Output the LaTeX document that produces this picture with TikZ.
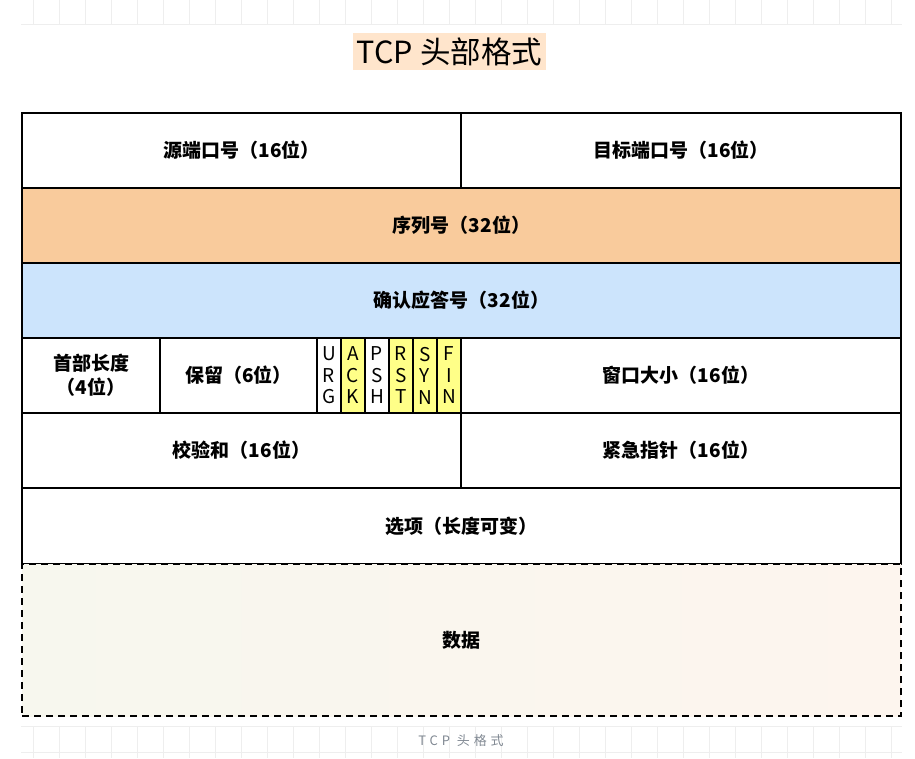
\documentclass[tikz,border=0pt]{standalone}
\usepackage{fontspec}
\setmainfont{Noto Sans CJK SC}
\usetikzlibrary{positioning}

\definecolor{seqorange}{RGB}{249,203,156}
\definecolor{ackblue}{RGB}{204,228,252}
\definecolor{flagyellow}{RGB}{255,255,136}
\definecolor{titlepeach}{RGB}{255,229,204}
\definecolor{gridgray}{RGB}{238,238,238}
\definecolor{capgray}{RGB}{128,136,146}
\definecolor{dataleft}{RGB}{247,247,238}
\definecolor{dataright}{RGB}{253,245,238}

\tikzset{
  field/.style={draw=black, line width=1.7pt, anchor=north west, inner sep=0pt, outer sep=0pt,
    minimum height=75pt, align=center, font=\bfseries\fontsize{19}{24}\selectfont},
  flagbit/.style={field, minimum width=24pt, font=\fontsize{19}{21.5}\selectfont},
  gridline/.style={draw=gridgray, line width=0.6pt},
}

\begin{document}
\begin{tikzpicture}[x=1pt, y=-1pt]
\useasboundingbox (0,0) rectangle (915,758);
% background grid
\foreach \gx in {0,...,33} {
  \draw[gridline] ({33+26*\gx},0) -- ({33+26*\gx},24);
  \draw[gridline] ({33+26*\gx},726) -- ({33+26*\gx},758);
}
\draw[gridline] (21,24) -- (902,24);
\draw[gridline] (21,726) -- (902,726);
\draw[gridline] (21,752) -- (902,752);
% title
\node[fill=titlepeach, minimum width=193pt, minimum height=37pt, inner sep=0pt,
  font=\fontsize{30.5}{34}\selectfont] (title) at (449.5,51.5) {TCP 头部格式};
% header fields
\node[field, minimum width=439pt] (srcport) at (22,113) {源端口号（16位）};
\node[field, minimum width=440pt] (dstport) at (461,113) {目标端口号（16位）};
\node[field, minimum width=879pt, fill=seqorange] (seqnum) at (22,188) {序列号（32位）};
\node[field, minimum width=879pt, fill=ackblue] (acknum) at (22,263) {确认应答号（32位）};
\node[field, minimum width=138pt] (hdrlen) at (22,338) {首部长度\\（4位）};
\node[field, minimum width=157pt] (reserved) at (160,338) {保留（6位）};
\foreach \letters/\bitcolor [count=\i from 0] in {U\\R\\G/white, A\\C\\K/flagyellow, P\\S\\H/white,
    R\\S\\T/flagyellow, S\\Y\\N/flagyellow, F\\I\\N/flagyellow}
  \node[flagbit, fill=\bitcolor] (flag\i) at ({317+24*\i},338) {\letters};
\node[field, minimum width=440pt] (window) at (461,338) {窗口大小（16位）};
\node[field, minimum width=439pt] (checksum) at (22,413) {校验和（16位）};
\node[field, minimum width=440pt] (urgptr) at (461,413) {紧急指针（16位）};
\node[field, minimum width=879pt, minimum height=76pt] (options) at (22,488) {选项（长度可变）};
% payload
\node[field, minimum width=879pt, minimum height=152pt, dash pattern=on 7pt off 5pt,
  left color=dataleft, right color=dataright] (payload) at (22,564) {数据};
% caption
\node[text=capgray, font=\fontsize{13}{15}\selectfont] (caption) at (461,741)
  {\addfontfeature{LetterSpace=30}TCP 头格式};
\end{tikzpicture}
\end{document}
